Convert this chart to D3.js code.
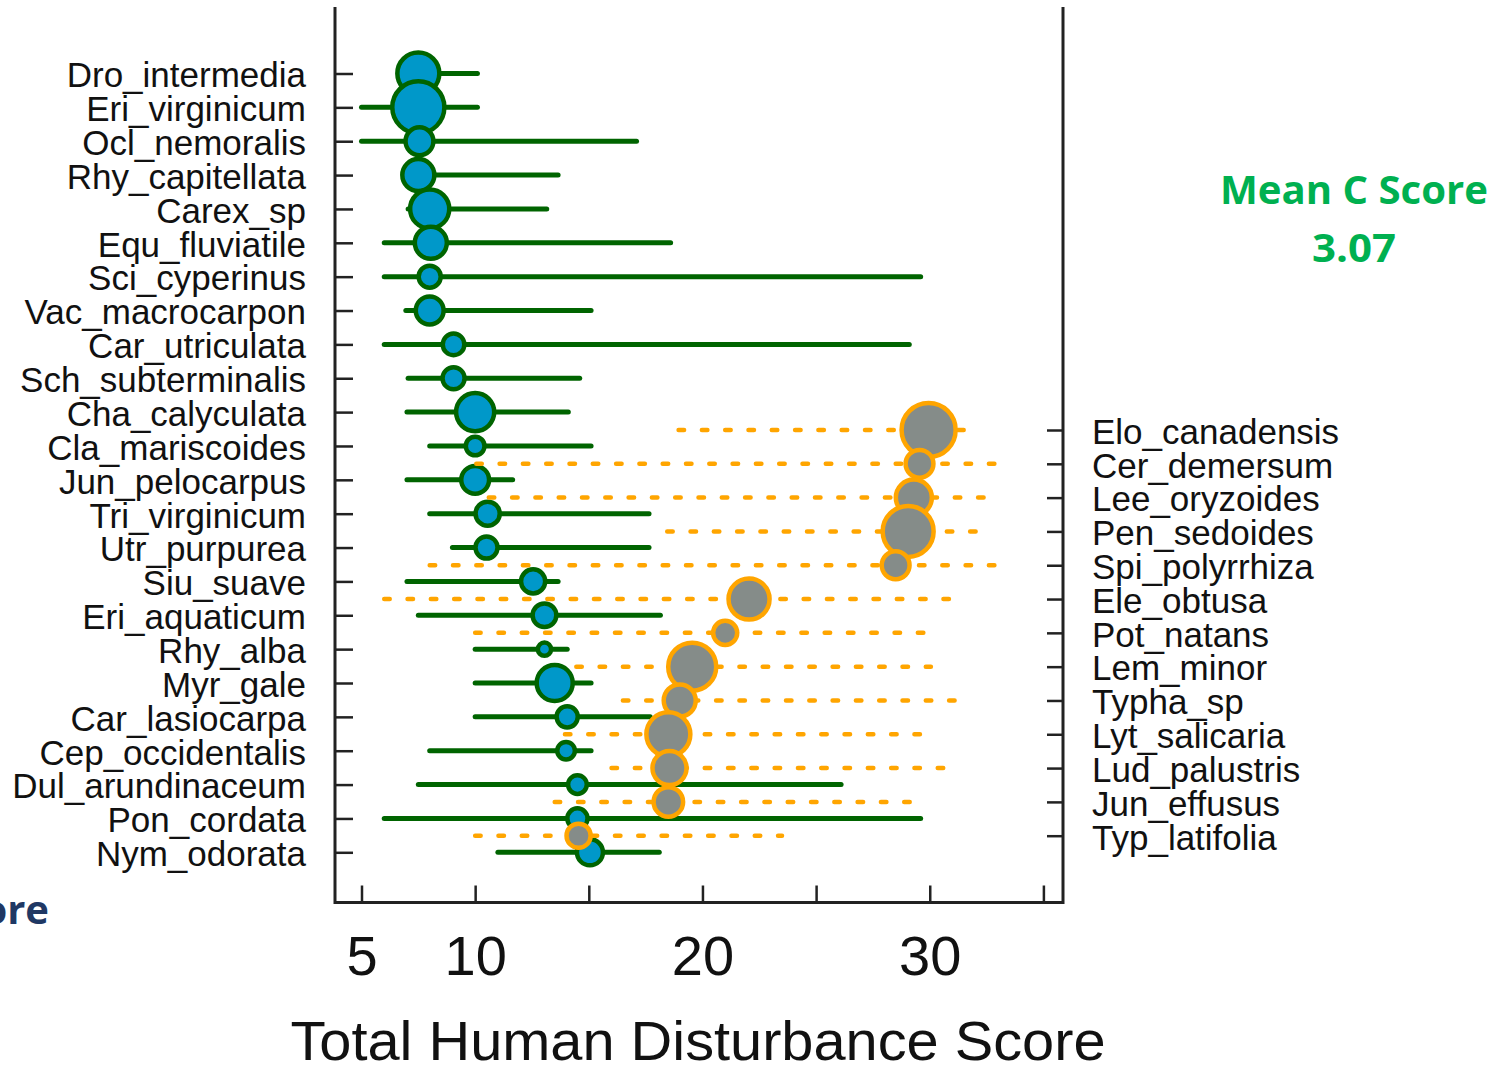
<!DOCTYPE html>
<html>
<head>
<meta charset="utf-8">
<script src="https://d3js.org/d3.v7.min.js"></script>
<style>
  body { margin: 0; background: #ffffff; }
  svg { display: block; }
  .lab text { font-family: "Liberation Sans", Arial, sans-serif; fill: #111; }
</style>
</head>
<body>
<section></section>
<script>

// Species on the left axis (green, blue dots)
var greenSpecies = ["Dro_intermedia", "Eri_virginicum", "Ocl_nemoralis", "Rhy_capitellata", "Carex_sp",
    "Equ_fluviatile", "Sci_cyperinus", "Vac_macrocarpon", "Car_utriculata", "Sch_subterminalis",
    "Cha_calyculata", "Cla_mariscoides", "Jun_pelocarpus", "Tri_virginicum", "Utr_purpurea",
    "Siu_suave", "Eri_aquaticum", "Rhy_alba", "Myr_gale", "Car_lasiocarpa",
    "Cep_occidentalis", "Dul_arundinaceum", "Pon_cordata", "Nym_odorata"]
var greenMean = [7.5, 7.5, 7.55, 7.5, 8.0, 8.05, 8.0, 8.0, 9.05, 9.05,
    10.0, 10.0, 10.0, 10.55, 10.5, 12.55, 13.05, 13.05, 13.5, 14.05,
    14.0, 14.5, 14.5, 15.05]
var greenLow = [7.0, 5.0, 5.0, 7.2, 7.05, 6.0, 6.0, 6.95, 6.0, 7.05,
    7.0, 8.0, 7.0, 8.0, 9.0, 7.0, 7.5, 10.0, 10.0, 10.0,
    8.0, 7.5, 6.0, 11.0]
var greenHigh = [10.1, 10.1, 17.1, 13.65, 13.15, 18.6, 29.6, 15.1, 29.1, 14.6,
    14.1, 15.1, 11.65, 17.65, 17.65, 13.65, 18.15, 14.05, 15.1, 17.7,
    15.1, 26.1, 29.6, 18.1]
var greenN = [91, 140, 40, 53, 79, 53, 25, 40, 24, 25,
    75, 18, 40, 30, 25, 30, 29, 9, 67, 23,
    16, 18, 21, 35]

// Species on the right axis (orange, grey dots)
var orangeSpecies = ["Elo_canadensis", "Cer_demersum", "Lee_oryzoides", "Pen_sedoides", "Spi_polyrrhiza",
    "Ele_obtusa", "Pot_natans", "Lem_minor", "Typha_sp", "Lyt_salicaria",
    "Lud_palustris", "Jun_effusus", "Typ_latifolia"]
var orangeMean = [29.95, 29.55, 29.3, 29.05, 28.5, 22.05, 21.0, 19.55, 19.0, 18.5, 18.55, 18.5, 14.55]
var orangeLow = [18.95, 10.05, 10.6, 18.45, 8.0, 6.0, 10.0, 14.45, 16.5, 13.95, 16.0, 13.5, 10.0]
var orangeHigh = [31.65, 32.95, 32.5, 32.15, 33.05, 31.1, 29.95, 30.05, 31.1, 29.65, 30.8, 29.3, 23.5]
var orangeN = [151, 40, 67, 134, 40, 87, 30, 119, 53, 100, 60, 45, 30]

// Axis ticks
var xTicks = [5, 10, 15, 20, 25, 30, 35]
var xTickLabels = [5, 10, 20, 30]

var width = 1504
var height = 1065

var svg = d3.select("section")
    .append("svg")
    .attr("width", width)
    .attr("height", height)

// Plot frame (left, right, bottom)
var box = { left: 335, right: 1063, top: 7, bottom: 902.5 }

// Scales
var xScale = d3.scaleLinear().domain([5, 35]).range([361.5, 1043.4])
var yLeft = d3.scalePoint().domain(greenSpecies).range([73.5, 852.3])
var yRight = d3.scalePoint().domain(orangeSpecies).range([430, 835.7])
var rScale = d3.scaleSqrt().domain([0, 100]).range([0, 22])

var green = greenSpecies.map(function (s, i) {
    return { name: s, mean: greenMean[i], low: greenLow[i], high: greenHigh[i], n: greenN[i] }
})
var orange = orangeSpecies.map(function (s, i) {
    return { name: s, mean: orangeMean[i], low: orangeLow[i], high: orangeHigh[i], n: orangeN[i] }
})

// Bottom axis: inward ticks, labels only at 5/10/20/30
var xAxis = d3.axisBottom(xScale)
    .tickValues(xTicks)
    .tickSizeInner(-17)
    .tickSizeOuter(0)
    .tickPadding(33)
    .tickFormat(function (d) { return xTickLabels.indexOf(d) >= 0 ? d : "" })

var gx = svg.append("g")
    .attr("class", "lab")
    .attr("transform", "translate(0," + box.bottom + ")")
    .call(xAxis)
gx.select(".domain").remove()
gx.selectAll("line").attr("stroke", "#222").attr("stroke-width", 2.5)
gx.selectAll("text").style("font-size", "56px").attr("fill", "#111")

// Left axis
var yAxisL = d3.axisLeft(yLeft).tickSizeInner(-18).tickSizeOuter(0).tickPadding(29)
var gl = svg.append("g")
    .attr("class", "lab")
    .attr("transform", "translate(" + box.left + ",0)")
    .call(yAxisL)
gl.select(".domain").remove()
gl.selectAll("line").attr("stroke", "#222").attr("stroke-width", 2.5)
gl.selectAll("text").style("font-size", "35px").attr("dy", "0.38em").attr("fill", "#111")

// Right axis
var yAxisR = d3.axisRight(yRight).tickSizeInner(-16).tickSizeOuter(0).tickPadding(29)
var gr = svg.append("g")
    .attr("class", "lab")
    .attr("transform", "translate(" + box.right + ",0)")
    .call(yAxisR)
gr.select(".domain").remove()
gr.selectAll("line").attr("stroke", "#222").attr("stroke-width", 2.5)
gr.selectAll("text").style("font-size", "35px").attr("dy", "0.38em").attr("fill", "#111")

// Frame lines
svg.append("path")
    .attr("d", "M" + box.left + "," + box.top + "V" + box.bottom + "H" + box.right + "V" + box.top)
    .attr("fill", "none")
    .attr("stroke", "#222")
    .attr("stroke-width", 3)

// Green ranges and blue dots
var gGreen = svg.append("g")
gGreen.selectAll("line.range")
    .data(green)
    .enter()
    .append("line")
    .attr("class", "range")
    .attr("x1", function (d) { return xScale(d.low) })
    .attr("x2", function (d) { return xScale(d.high) })
    .attr("y1", function (d) { return yLeft(d.name) })
    .attr("y2", function (d) { return yLeft(d.name) })
    .attr("stroke", "#006400")
    .attr("stroke-width", 5)
    .attr("stroke-linecap", "round")

gGreen.selectAll("circle")
    .data(green)
    .enter()
    .append("circle")
    .attr("cx", function (d) { return xScale(d.mean) })
    .attr("cy", function (d) { return yLeft(d.name) })
    .attr("r", function (d) { return rScale(d.n) })
    .attr("fill", "#0098c9")
    .attr("stroke", "#006400")
    .attr("stroke-width", 4.5)

// Orange dotted ranges and grey dots
var gOrange = svg.append("g")
gOrange.selectAll("line.range")
    .data(orange)
    .enter()
    .append("line")
    .attr("class", "range")
    .attr("x1", function (d) { return xScale(d.low) })
    .attr("x2", function (d) { return xScale(d.high) })
    .attr("y1", function (d) { return yRight(d.name) })
    .attr("y2", function (d) { return yRight(d.name) })
    .attr("stroke", "#ffa500")
    .attr("stroke-width", 4.5)
    .attr("stroke-linecap", "round")
    .attr("stroke-dasharray", "5.5,17.8")

gOrange.selectAll("circle")
    .data(orange)
    .enter()
    .append("circle")
    .attr("cx", function (d) { return xScale(d.mean) })
    .attr("cy", function (d) { return yRight(d.name) })
    .attr("r", function (d) { return rScale(d.n) })
    .attr("fill", "#858c89")
    .attr("stroke", "#ffa500")
    .attr("stroke-width", 4.5)

// Axis title
svg.append("text")
    .attr("x", 698)
    .attr("y", 1060)
    .attr("text-anchor", "middle")
    .attr("textLength", 815)
    .attr("lengthAdjust", "spacingAndGlyphs")
    .style("font-family", "'Liberation Sans', Arial, sans-serif")
    .style("font-size", "56px")
    .attr("fill", "#111")
    .text("Total Human Disturbance Score")

// Mean C score note
var note = svg.append("g")
    .style("font-family", "'Open Sans', 'Noto Sans', sans-serif")
    .style("font-weight", "bold")
    .attr("fill", "#00b050")
note.append("text")
    .attr("x", 1354).attr("y", 204)
    .attr("text-anchor", "middle")
    .attr("textLength", 268)
    .attr("lengthAdjust", "spacingAndGlyphs")
    .style("font-size", "40px")
    .text("Mean C Score")
note.append("text")
    .attr("x", 1354).attr("y", 262)
    .attr("text-anchor", "middle")
    .attr("textLength", 84)
    .attr("lengthAdjust", "spacingAndGlyphs")
    .style("font-size", "40px")
    .text("3.07")

// Cut-off text at the bottom-left edge
svg.append("text")
    .attr("x", 49).attr("y", 924)
    .attr("text-anchor", "end")
    .style("font-family", "'Open Sans', 'Noto Sans', sans-serif")
    .style("font-weight", "bold")
    .style("font-size", "40px")
    .attr("fill", "#1f3864")
    .text("Score")

</script>
</body>
</html>
